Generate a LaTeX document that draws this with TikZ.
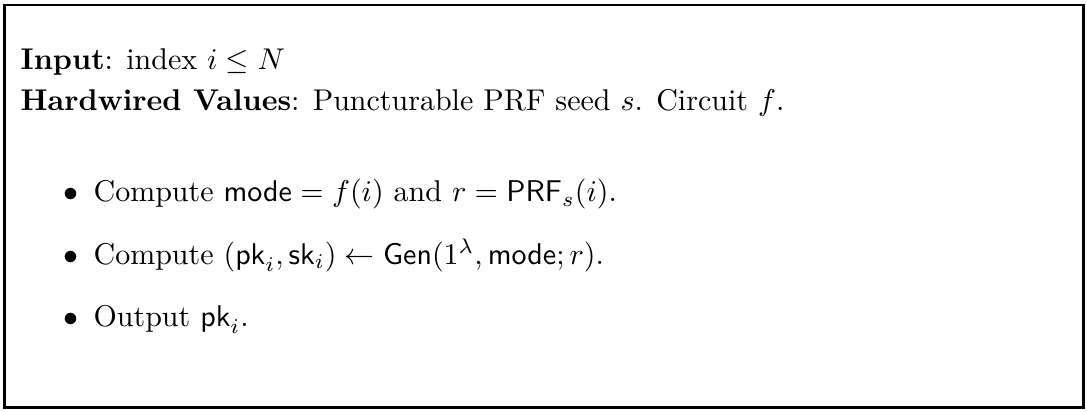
\documentclass[tikz,border=0pt]{standalone}
\usepackage{amsmath}
\usepackage{amssymb}
\usetikzlibrary{positioning}

\tikzset{
	line/.style = {anchor = base west, inner sep = 0pt},
	bullet/.style = {anchor = base, inner sep = 0pt}
}

\begin{document}
\begin{tikzpicture}[x = 1pt, y = -1pt]

	% frame
	\def \boxW {362.33};
	\def \boxH {137.33};
	\useasboundingbox (0,0) rectangle (\boxW,\boxH);
	\draw [line width = 0.8pt] (1.5,1.7) rectangle ({\boxW - 1.2},{\boxH - 1.5});

	% header
	\def \textX {6.7};
	\node [line] (input) at (\textX, 23.3) {\textbf{Input}: index \(i \leq N\)};
	\node [line] (hardwired) at (\textX, 36.7) {\textbf{Hardwired Values}: Puncturable PRF seed \(s\). Circuit \(f\).};

	% steps
	\def \itemX {31};
	\def \dotX {23.5};
	\node [line] (stepA) at (\itemX, 67.3) {Compute \(\mathsf{mode} = f(i)\) and \(r = \mathsf{PRF}_s(i)\).};
	\node [line] (stepB) at (\itemX, 88) {Compute \((\mathsf{pk}_i, \mathsf{sk}_i) \leftarrow \mathsf{Gen}(1^\lambda, \mathsf{mode}; r)\).};
	\node [line] (stepC) at (\itemX, 108.7) {Output \(\mathsf{pk}_i\).};
	\foreach \s in {stepA, stepB, stepC}
		\node [bullet] at (\dotX, 0 |- \s.base) {\(\bullet\)};

\end{tikzpicture}
\end{document}
